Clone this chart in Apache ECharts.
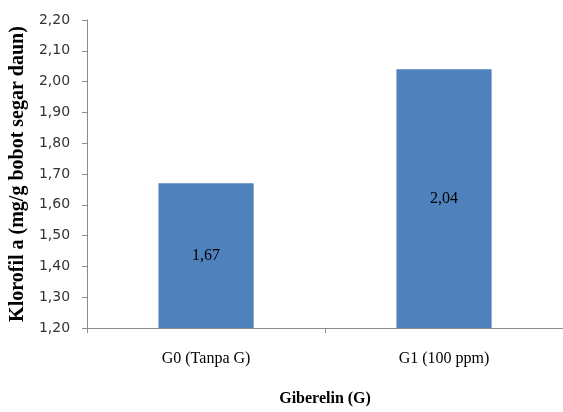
<!DOCTYPE html>
<html>
<head>
<meta charset="utf-8">
<script src="https://cdn.jsdelivr.net/npm/echarts@6/dist/echarts.min.js"></script>
<style>
  html, body { margin: 0; padding: 0; background: #fff; }
  #chart { width: 563px; height: 412px; }
</style>
</head>
<body>
<div id="chart"></div>
<script>
// Chlorophyll a content per gibberellin treatment
const categories = ['G0 (Tanpa G)', 'G1 (100 ppm)'];
const klorofilA = [1.67, 2.04];
const yMin = 1.2;
const yMax = 2.2;
const yStep = 0.1;

const comma = v => Number(v).toFixed(2).replace('.', ',');
const axisGray = '#8c8c8c';

const chart = echarts.init(document.getElementById('chart'), null, { renderer: 'canvas' });
chart.setOption({
  animation: false,
  backgroundColor: '#ffffff',
  grid: { left: 84, right: -1, top: 20, bottom: 80, containLabel: false },
  xAxis: {
    type: 'category',
    data: categories,
    boundaryGap: true,
    name: 'Giberelin (G)',
    nameLocation: 'middle',
    nameGap: 63,
    nameTextStyle: { fontFamily: 'Liberation Serif', fontWeight: 'bold', fontSize: 16, color: '#000' },
    axisLine: { lineStyle: { color: axisGray, width: 1 } },
    axisTick: { show: true, length: 5, lineStyle: { color: axisGray } },
    axisLabel: { margin: 23, fontFamily: 'Liberation Serif', fontSize: 16, color: '#000' },
    splitLine: { show: false }
  },
  yAxis: {
    type: 'value',
    min: yMin,
    max: yMax,
    interval: yStep,
    name: 'Klorofil a (mg/g bobot segar daun)',
    nameLocation: 'middle',
    nameRotate: 90,
    nameGap: 56,
    nameTextStyle: { fontFamily: 'Liberation Serif', fontWeight: 'bold', fontSize: 20, color: '#000' },
    axisLine: { show: true, lineStyle: { color: axisGray, width: 1 } },
    axisTick: { show: true, length: 5, lineStyle: { color: axisGray } },
    axisLabel: { margin: 17, fontFamily: 'DejaVu Sans', fontSize: 14, color: '#333333', formatter: comma },
    splitLine: { show: false }
  },
  series: [{
    type: 'bar',
    data: klorofilA,
    barWidth: '40%',
    itemStyle: { color: '#4f81bd' },
    label: {
      show: true,
      position: 'inside',
      fontFamily: 'Liberation Serif',
      fontSize: 16,
      color: '#000',
      formatter: p => comma(p.value)
    }
  }]
});
</script>
</body>
</html>
